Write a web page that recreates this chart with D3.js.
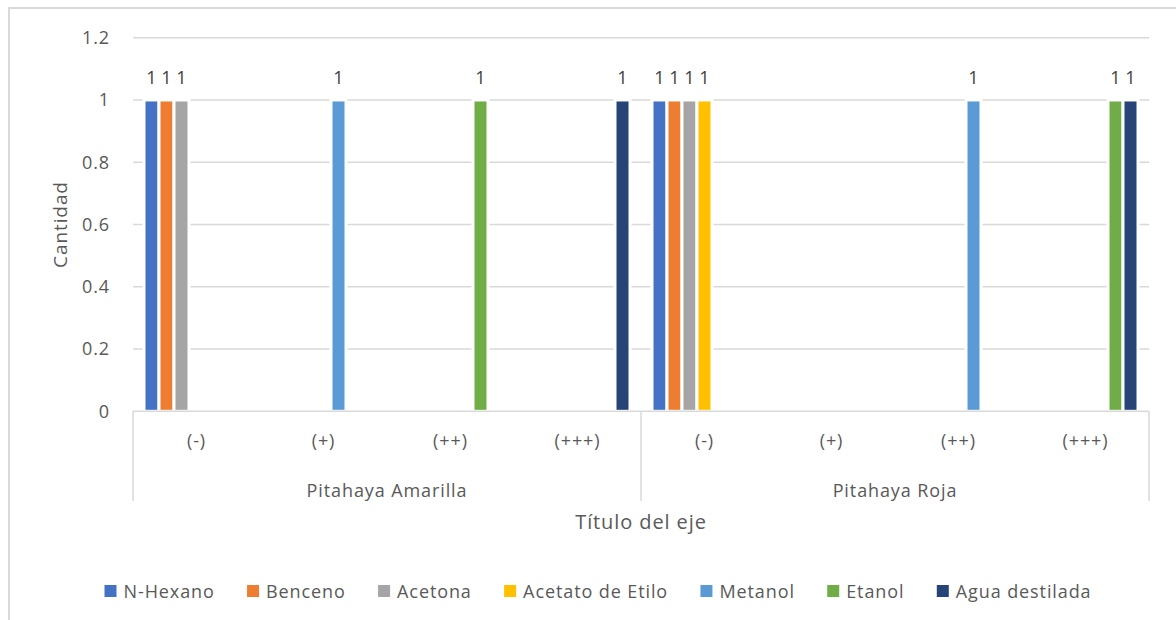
<!DOCTYPE html>
<html>
<head>
<meta charset="utf-8">
<script src="https://cdn.jsdelivr.net/npm/d3@7"></script>
<style>
  html, body { margin: 0; padding: 0; background: #fff; }
  svg { display: block; font-family: "Open Sans", "Noto Sans", sans-serif; }
  text { letter-spacing: 0.9px; }
</style>
</head>
<body>
<svg id="chart" width="1176" height="620"></svg>
<script>
// Outer groups and inner categories of the two-level x axis
const groups = ["Pitahaya Amarilla", "Pitahaya Roja"];
const levels = ["(-)", "(+)", "(++)", "(+++)"];

// Series names and colours
const seriesNames = ["N-Hexano", "Benceno", "Acetona", "Acetato de Etilo", "Metanol", "Etanol", "Agua destilada"];
const seriesColors = ["#4472C4", "#ED7D31", "#A5A5A5", "#FFC000", "#5B9BD5", "#70AD47", "#264478"];

// Values per series, in order Amarilla (-),(+),(++),(+++), Roja (-),(+),(++),(+++); null = empty cell
const nHexano       = [1, null, null, null, 1, null, null, null];
const benceno       = [1, null, null, null, 1, null, null, null];
const acetona       = [1, null, null, null, 1, null, null, null];
const acetatoEtilo  = [null, null, null, null, 1, null, null, null];
const metanol       = [null, 1, null, null, null, null, 1, null];
const etanol        = [null, null, 1, null, null, null, null, 1];
const aguaDestilada = [null, null, null, 1, null, null, null, 1];
const seriesValues = [nHexano, benceno, acetona, acetatoEtilo, metanol, etanol, aguaDestilada];

const yTicks = [0, 0.2, 0.4, 0.6, 0.8, 1, 1.2];

const svg = d3.select("#chart");
const textColor = "#595959";
const gridColor = "#D9D9D9";
const fs = 18;

// Chart frame
svg.append("rect")
  .attr("x", 9).attr("y", 8)
  .attr("width", 1200).attr("height", 700)
  .attr("fill", "none").attr("stroke", gridColor).attr("stroke-width", 2);

const plot = { left: 133, right: 1149, top: 37.7, bottom: 411.3 };

// Flattened category keys
const cats = [];
groups.forEach(g => levels.forEach(l => cats.push({ group: g, level: l, key: g + "|" + l })));

const x0 = d3.scaleBand().domain(cats.map(c => c.key)).range([plot.left, plot.right]).paddingInner(0).paddingOuter(0);
const x1 = d3.scaleBand().domain(seriesNames).range([0, x0.bandwidth()]).paddingOuter(0.733).paddingInner(0);
const y = d3.scaleLinear().domain([0, 1.2]).range([plot.bottom, plot.top]);

// Gridlines
svg.append("g")
  .selectAll("line")
  .data(yTicks.filter(t => t > 0))
  .join("line")
  .attr("x1", plot.left).attr("x2", plot.right)
  .attr("y1", d => y(d)).attr("y2", d => y(d))
  .attr("stroke", gridColor).attr("stroke-width", 1.5);

// Y axis tick labels
svg.append("g")
  .selectAll("text")
  .data(yTicks)
  .join("text")
  .attr("x", 110)
  .attr("y", d => y(d))
  .attr("dy", "0.35em")
  .attr("text-anchor", "end")
  .attr("fill", textColor)
  .attr("font-size", fs)
  .text(d => d3.format("")(+d.toFixed(1)));

// Y axis title
svg.append("text")
  .attr("transform", `translate(67,${(plot.top + plot.bottom) / 2}) rotate(-90)`)
  .attr("text-anchor", "middle")
  .attr("fill", textColor)
  .attr("font-size", 19)
  .text("Cantidad");

// Bars
const barData = [];
seriesNames.forEach((s, si) => {
  seriesValues[si].forEach((v, ci) => {
    if (v != null) barData.push({ series: s, color: seriesColors[si], cat: cats[ci].key, value: v });
  });
});

svg.append("g")
  .selectAll("rect")
  .data(barData)
  .join("rect")
  .attr("x", d => x0(d.cat) + x1(d.series))
  .attr("y", d => y(d.value))
  .attr("width", x1.bandwidth())
  .attr("height", d => y(0) - y(d.value))
  .attr("fill", d => d.color)
  .attr("stroke", "#fff")
  .attr("stroke-width", 3);

// Data labels
svg.append("g")
  .selectAll("text")
  .data(barData)
  .join("text")
  .attr("x", d => x0(d.cat) + x1(d.series) + x1.bandwidth() / 2)
  .attr("y", d => y(d.value) - 16)
  .attr("text-anchor", "middle")
  .attr("fill", "#404040")
  .attr("font-size", fs)
  .style("letter-spacing", "0px")
  .text(d => d.value);

// Category axis line
svg.append("line")
  .attr("x1", plot.left).attr("x2", plot.right)
  .attr("y1", plot.bottom).attr("y2", plot.bottom)
  .attr("stroke", gridColor).attr("stroke-width", 1.5);

// Group separators
const groupEdges = [plot.left, x0(cats[levels.length].key), plot.right];
svg.append("g")
  .selectAll("line")
  .data(groupEdges)
  .join("line")
  .attr("x1", d => d).attr("x2", d => d)
  .attr("y1", plot.bottom).attr("y2", 501)
  .attr("stroke", gridColor).attr("stroke-width", 1.5);

// Inner category labels
svg.append("g")
  .selectAll("text")
  .data(cats)
  .join("text")
  .attr("x", d => x0(d.key) + x0.bandwidth() / 2)
  .attr("y", 447)
  .attr("text-anchor", "middle")
  .attr("fill", textColor)
  .attr("font-size", fs)
  .text(d => d.level);

// Outer group labels
svg.append("g")
  .selectAll("text")
  .data(groups)
  .join("text")
  .attr("x", (g, i) => (groupEdges[i] + groupEdges[i + 1]) / 2)
  .attr("y", 497)
  .attr("text-anchor", "middle")
  .attr("fill", textColor)
  .attr("font-size", fs)
  .text(d => d);

// X axis title
svg.append("text")
  .attr("x", (plot.left + plot.right) / 2)
  .attr("y", 529)
  .attr("text-anchor", "middle")
  .attr("fill", textColor)
  .attr("font-size", 20)
  .text("Título del eje");

// Legend
const legend = svg.append("g");
const items = legend.selectAll("g")
  .data(seriesNames)
  .join("g");
items.append("rect")
  .attr("width", 12).attr("height", 12)
  .attr("y", 585)
  .attr("fill", (d, i) => seriesColors[i]);
items.append("text")
  .attr("x", 19)
  .attr("y", 598)
  .attr("fill", textColor)
  .attr("font-size", fs)
  .text(d => d);

let widths = [];
items.each(function () { widths.push(19 + this.querySelector("text").getComputedTextLength()); });
const totalTarget = 987;
const gap = Math.max(10, (totalTarget - d3.sum(widths)) / (widths.length - 1));
const total = d3.sum(widths) + gap * (widths.length - 1);
let cx = 598 - total / 2;
items.attr("transform", (d, i) => {
  const t = `translate(${cx},0)`;
  cx += widths[i] + gap;
  return t;
});
</script>
</body>
</html>
